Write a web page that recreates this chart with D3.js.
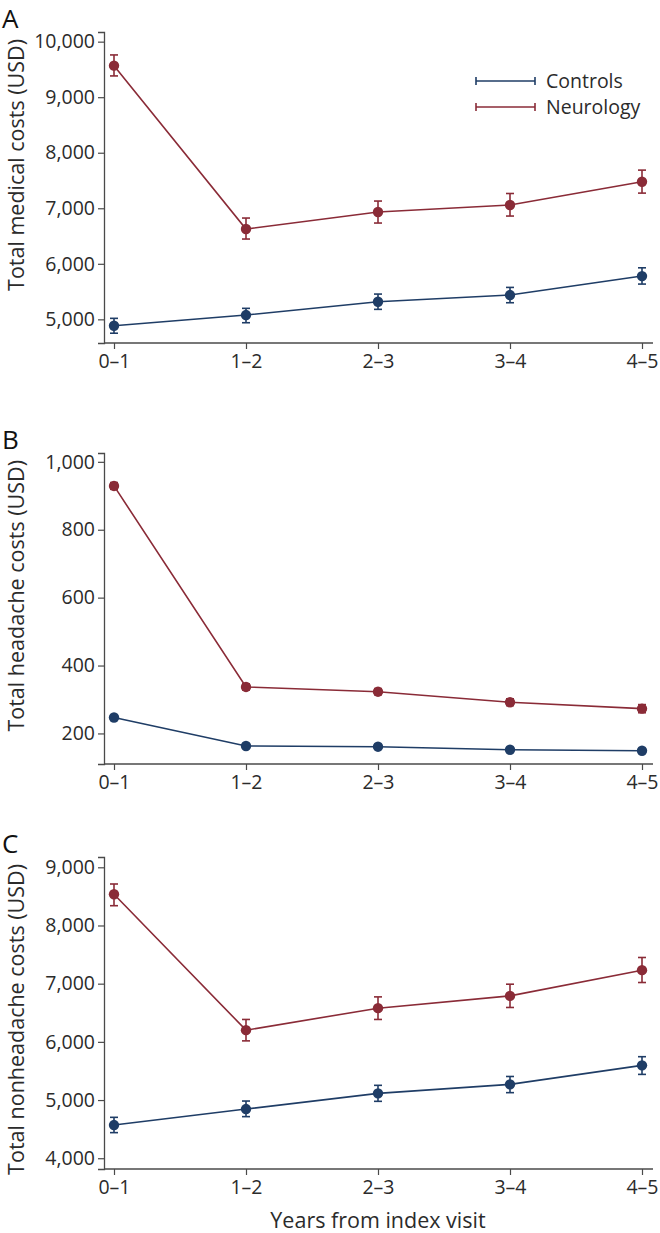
<!DOCTYPE html>
<html><head><meta charset="utf-8">
<script src="https://cdn.jsdelivr.net/npm/d3@7"></script>
<style>body{margin:0;background:#fff}svg{display:block}text{font-family:"Open Sans",sans-serif}</style>
</head><body><svg id="c" width="660" height="1233"></svg>
<script>
const categories = ["0\u20131", "1\u20132", "2\u20133", "3\u20134", "4\u20135"];
const seriesNames = ["Controls", "Neurology"];

// Panel A: total medical costs
const medControls   = [4885, 5077, 5317, 5437, 5779];
const medControlsLo = [4750, 4939, 5180, 5299, 5635];
const medControlsHi = [5018, 5198, 5455, 5575, 5928];
const medNeuro      = [9568, 6626, 6932, 7058, 7477];
const medNeuroLo    = [9383, 6446, 6734, 6860, 7273];
const medNeuroHi    = [9761, 6824, 7130, 7266, 7687];
const medTicks      = [5000, 6000, 7000, 8000, 9000, 10000];

// Panel B: total headache costs
const haControls   = [247, 163, 161, 152, 149];
const haControlsLo = [241, 157, 155, 146, 143];
const haControlsHi = [253, 169, 167, 158, 155];
const haNeuro      = [929, 337, 323, 292, 273];
const haNeuroLo    = [919, 328, 314, 282, 261];
const haNeuroHi    = [939, 346, 332, 302, 285];
const haTicks      = [200, 400, 600, 800, 1000];

// Panel C: total nonheadache costs
const nhControls   = [4570, 4845, 5115, 5270, 5596];
const nhControlsLo = [4440, 4715, 4978, 5127, 5441];
const nhControlsHi = [4703, 4983, 5253, 5405, 5745];
const nhNeuro      = [8536, 6201, 6579, 6790, 7232];
const nhNeuroLo    = [8340, 6017, 6385, 6591, 7020];
const nhNeuroHi    = [8713, 6385, 6773, 6991, 7450];
const nhTicks      = [4000, 5000, 6000, 7000, 8000, 9000];

const panels = [
  {letter:"A", title:"Total medical costs (USD)", domain:[4574,10174], ticks:medTicks, top:32, bottom:343,
   series:[[medControls,medControlsLo,medControlsHi],[medNeuro,medNeuroLo,medNeuroHi]], legend:true},
  {letter:"B", title:"Total headache costs (USD)", domain:[110,1026], ticks:haTicks, top:453, bottom:764,
   series:[[haControls,haControlsLo,haControlsHi],[haNeuro,haNeuroLo,haNeuroHi]], legend:false},
  {letter:"C", title:"Total nonheadache costs (USD)", domain:[3815,9177], ticks:nhTicks, top:857, bottom:1169,
   series:[[nhControls,nhControlsLo,nhControlsHi],[nhNeuro,nhNeuroLo,nhNeuroHi]], legend:false}
];

const colors = ["#1f3d66", "#8a2b37"];
const axisColor = "#4a4a4a", textColor = "#2b2b2b";
const left = 104, right = 653;
const svg = d3.select("#c");
const x = d3.scaleLinear().domain([0, 4]).range([114, 642]);
const fmt = d3.format(",");

panels.forEach(p => {
  const g = svg.append("g");
  const y = d3.scaleLinear().domain(p.domain).range([p.bottom, p.top]);

  // y axis
  const ya = g.append("g").attr("transform", `translate(${left},0)`)
    .call(d3.axisLeft(y).tickValues(p.ticks).tickFormat(fmt).tickSizeOuter(0).tickSize(6).tickPadding(3));
  ya.select(".domain").attr("stroke", axisColor).attr("stroke-width", 1.3);
  ya.selectAll(".tick line").attr("stroke", axisColor).attr("stroke-width", 1.2);
  ya.selectAll(".tick text").attr("fill", textColor).style("font-size", "19.5px");

  // x axis
  const xa = g.append("g").attr("transform", `translate(0,${p.bottom})`)
    .call(d3.axisBottom(x).tickValues([0,1,2,3,4]).tickFormat(i => categories[i]).tickSizeOuter(0).tickSize(6).tickPadding(5));
  xa.select(".domain").remove();
  xa.append("line").attr("x1", left).attr("x2", right).attr("y1", 0).attr("y2", 0)
    .attr("stroke", axisColor).attr("stroke-width", 1.3);
  xa.selectAll(".tick line").attr("stroke", axisColor).attr("stroke-width", 1.2);
  xa.selectAll(".tick text").attr("fill", textColor).style("font-size", "19.5px");

  // panel letter
  g.append("text").attr("x", 2).attr("y", p.top - 4).attr("fill", "#111")
    .style("font-size", "26px").text(p.letter);

  // y title
  g.append("text").attr("transform", `translate(24,${p.top + 7}) rotate(-90)`)
    .attr("text-anchor", "end").attr("fill", textColor).style("font-size", "21.5px").text(p.title);

  // series
  p.series.forEach((s, si) => {
    const [m, lo, hi] = s;
    const c = colors[si];
    g.append("path").datum(m)
      .attr("d", d3.line().x((d, i) => x(i)).y(d => y(d)))
      .attr("fill", "none").attr("stroke", c).attr("stroke-width", 1.6);
    const eb = g.append("g").attr("stroke", c).attr("stroke-width", 1.6);
    m.forEach((d, i) => {
      const cx = x(i);
      eb.append("line").attr("x1", cx).attr("x2", cx).attr("y1", y(lo[i])).attr("y2", y(hi[i]));
      eb.append("line").attr("x1", cx - 4).attr("x2", cx + 4).attr("y1", y(lo[i])).attr("y2", y(lo[i]));
      eb.append("line").attr("x1", cx - 4).attr("x2", cx + 4).attr("y1", y(hi[i])).attr("y2", y(hi[i]));
    });
    g.selectAll(null).data(m).enter().append("circle")
      .attr("cx", (d, i) => x(i)).attr("cy", d => y(d)).attr("r", 5.2).attr("fill", c);
  });

  if (p.legend) {
    const lg = g.append("g");
    seriesNames.forEach((n, i) => {
      const ly = 81 + i * 26;
      lg.append("line").attr("x1", 476).attr("x2", 535).attr("y1", ly).attr("y2", ly)
        .attr("stroke", colors[i]).attr("stroke-width", 1.6);
      [476, 535].forEach(xx => lg.append("line").attr("x1", xx).attr("x2", xx)
        .attr("y1", ly - 4).attr("y2", ly + 4).attr("stroke", colors[i]).attr("stroke-width", 1.6));
      lg.append("text").attr("x", 546).attr("y", ly + 7).attr("fill", textColor)
        .style("font-size", "19.5px").text(n);
    });
  }
});

svg.append("text").attr("x", 378).attr("y", 1228).attr("text-anchor", "middle")
  .attr("fill", textColor).style("font-size", "21.5px").text("Years from index visit");
</script></body></html>
